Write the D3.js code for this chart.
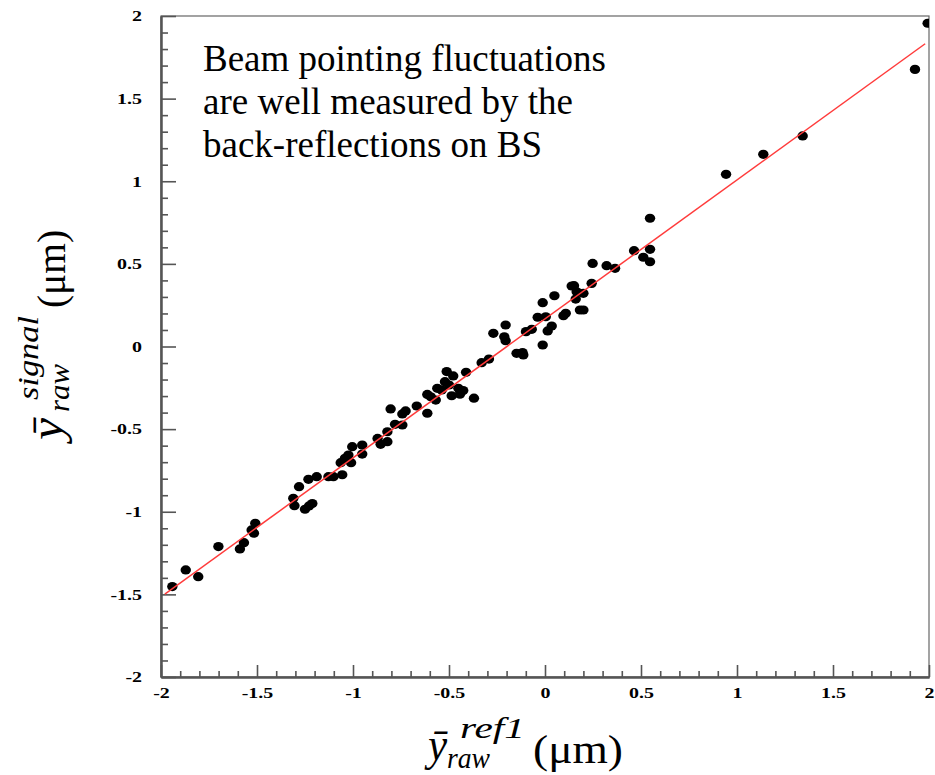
<!DOCTYPE html>
<html>
<head>
<meta charset="utf-8">
<script src="https://cdn.jsdelivr.net/npm/d3@7"></script>
<style>
  body { margin: 0; background: #fff; }
  svg { display: block; }
</style>
</head>
<body>
<div id="chart"></div>
<script>
// measured points: x = ref1 position, y = signal position (µm)
const xs = [-1.941, -1.871, -1.806, -1.701, -1.589, -1.568, -1.528, -1.516, -1.509,
  -1.311, -1.305, -1.281, -1.250, -1.229, -1.212, -1.232, -1.189, -1.128, -1.102,
  -1.056, -1.064, -1.042, -1.024, -1.010, -1.004, -0.952, -0.952, -0.872, -0.856,
  -0.821, -0.821, -0.804, -0.781, -0.743, -0.743, -0.726, -0.668, -0.613, -0.613,
  -0.595, -0.569, -0.561, -0.538, -0.521, -0.512, -0.478, -0.500, -0.486, -0.451,
  -0.443, -0.426, -0.411, -0.370, -0.330, -0.292, -0.269, -0.212, -0.205, -0.205,
  -0.148, -0.117, -0.113, -0.099, -0.069, -0.038, -0.012, -0.012, 0.004, 0.014,
  0.035, 0.049, 0.096, 0.108, 0.139, 0.151, 0.160, 0.165, 0.182, 0.200, 0.200,
  0.243, 0.248, 0.321, 0.365, 0.464, 0.512, 0.547, 0.547, 0.547, 0.943, 1.137,
  1.342, 1.927, 1.993];
const ys = [-1.453, -1.352, -1.393, -1.211, -1.225, -1.187, -1.110, -1.130, -1.070,
  -0.919, -0.963, -0.848, -0.985, -0.965, -0.950, -0.804, -0.788, -0.788, -0.788,
  -0.776, -0.703, -0.677, -0.657, -0.703, -0.606, -0.596, -0.651, -0.556, -0.592,
  -0.576, -0.516, -0.378, -0.471, -0.475, -0.408, -0.390, -0.360, -0.404, -0.290,
  -0.304, -0.324, -0.253, -0.263, -0.213, -0.152, -0.178, -0.233, -0.298, -0.253,
  -0.289, -0.267, -0.156, -0.313, -0.098, -0.076, 0.080, 0.059, 0.035, 0.130,
  -0.041, -0.037, -0.051, 0.090, 0.104, 0.177, 0.265, 0.009, 0.180, 0.094,
  0.124, 0.307, 0.186, 0.201, 0.366, 0.368, 0.287, 0.331, 0.221, 0.221, 0.322,
  0.382, 0.503, 0.489, 0.473, 0.580, 0.540, 0.588, 0.513, 0.776, 1.042, 1.163,
  1.274, 1.677, 1.956];

// fitted line end points
const fitX = [-1.98, 1.98];
const fitY = [-1.498, 1.832];

const xTickVals = [-2, -1.5, -1, -0.5, 0, 0.5, 1, 1.5, 2];
const xTickLabels = ['-2', '-1.5', '-1', '-0.5', '0', '0.5', '1', '1.5', '2'];
const yTickVals = [-2, -1.5, -1, -0.5, 0, 0.5, 1, 1.5, 2];
const yTickLabels = ['-2', '-1.5', '-1', '-0.5', '0', '0.5', '1', '1.5', '2'];

const noteLines = ['Beam pointing fluctuations', 'are well measured by the', 'back-reflections on BS'];

const width = 935, height = 775;
const margin = {top: 16, right: 6, bottom: 98, left: 161};
const serif = 'Liberation Serif, Times New Roman, serif';

const svg = d3.select('#chart').append('svg')
  .attr('width', width)
  .attr('height', height);

const x = d3.scaleLinear().domain([-2, 2]).range([margin.left, width - margin.right]);
const y = d3.scaleLinear().domain([-2, 2]).range([height - margin.bottom, margin.top]);

// minor ticks every 0.1
const minor = d3.range(-20, 21).map(d => d / 10).filter(d => Math.abs(d * 2 - Math.round(d * 2)) > 1e-6);

// frame
svg.append('rect')
  .attr('x', x(-2)).attr('y', y(2))
  .attr('width', x(2) - x(-2)).attr('height', y(-2) - y(2))
  .attr('fill', 'none')
  .attr('stroke', '#666')
  .attr('stroke-width', 1.2);

// clip for points
svg.append('defs').append('clipPath').attr('id', 'plot-clip')
  .append('rect')
  .attr('x', x(-2)).attr('y', y(2))
  .attr('width', x(2) - x(-2)).attr('height', y(-2) - y(2));

function styleAxis(g) {
  g.select('.domain').attr('stroke', '#555').attr('stroke-width', 2);
  g.selectAll('.tick line').attr('stroke', '#555').attr('stroke-width', 1.6);
}

// y axis (ticks point inward)
svg.append('g')
  .attr('transform', `translate(${x(-2)},0)`)
  .call(d3.axisLeft(y).tickValues(minor).tickSize(-7).tickSizeOuter(0).tickFormat(''))
  .call(styleAxis);

const yAxis = svg.append('g')
  .attr('transform', `translate(${x(-2)},0)`)
  .call(d3.axisLeft(y).tickValues(yTickVals).tickSize(-15).tickSizeOuter(0)
    .tickPadding(19).tickFormat((d, i) => yTickLabels[i]))
  .call(styleAxis);

yAxis.selectAll('.tick text')
  .attr('x', 0)
  .attr('transform', 'translate(-19,0) scale(1.33,1)')
  .attr('font-family', serif)
  .attr('font-weight', 'bold')
  .attr('font-size', 15)
  .attr('fill', '#000');

// x axis
svg.append('g')
  .attr('transform', `translate(0,${y(-2)})`)
  .call(d3.axisBottom(x).tickValues(minor).tickSize(-6).tickSizeOuter(0).tickFormat(''))
  .call(styleAxis);

const xAxis = svg.append('g')
  .attr('transform', `translate(0,${y(-2)})`)
  .call(d3.axisBottom(x).tickValues(xTickVals).tickSize(-12).tickSizeOuter(0)
    .tickPadding(10).tickFormat((d, i) => xTickLabels[i]))
  .call(styleAxis);

xAxis.selectAll('.tick text')
  .attr('transform', 'scale(1.33,1)')
  .attr('font-family', serif)
  .attr('font-weight', 'bold')
  .attr('font-size', 15)
  .attr('fill', '#000');

// data points
const pts = xs.map((d, i) => ({x: d, y: ys[i]}));
svg.append('g')
  .attr('clip-path', 'url(#plot-clip)')
  .selectAll('ellipse')
  .data(pts)
  .join('ellipse')
  .attr('cx', d => x(d.x))
  .attr('cy', d => y(d.y))
  .attr('rx', 5.2)
  .attr('ry', 4.6)
  .attr('fill', '#000');

// fit line
const line = d3.line().x(d => x(d[0])).y(d => y(d[1]));
svg.append('path')
  .datum(fitX.map((d, i) => [d, fitY[i]]))
  .attr('d', line)
  .attr('fill', 'none')
  .attr('stroke', '#ff3b3b')
  .attr('stroke-width', 1.5);

// annotation
noteLines.forEach((t, i) => {
  svg.append('text')
    .attr('x', 203)
    .attr('y', 71 + i * 43)
    .style('font-family', serif)
    .style('font-size', '37px')
    .attr('fill', '#000')
    .text(t);
});

// axis titles built from pieces (main symbol, subscript, superscript, unit)
function mathLabel(g, parts) {
  parts.forEach(p => {
    g.append('text')
      .attr('x', p.x)
      .attr('y', p.y)
      .style('font-family', serif)
      .style('font-style', p.italic ? 'italic' : 'normal')
      .style('font-size', p.size + 'px')
      .attr('textLength', p.len)
      .attr('lengthAdjust', 'spacingAndGlyphs')
      .attr('fill', '#000')
      .text(p.text);
  });
}

mathLabel(svg.append('g').attr('transform', 'translate(428,760)'), [
  {text: 'ȳ', x: 0, y: 0, size: 46, italic: true, len: 19},
  {text: 'raw', x: 19, y: 8, size: 30, italic: true, len: 43},
  {text: 'ref1', x: 32, y: -22, size: 30, italic: true, len: 65},
  {text: '(μm)', x: 105, y: 3, size: 40, italic: false, len: 90}
]);

mathLabel(svg.append('g').attr('transform', 'translate(62,440) rotate(-90)'), [
  {text: 'ȳ', x: 0, y: 0, size: 46, italic: true, len: 22},
  {text: 'raw', x: 28, y: 7, size: 30, italic: true, len: 48},
  {text: 'signal', x: 40, y: -24, size: 30, italic: true, len: 84},
  {text: '(μm)', x: 132, y: 3, size: 40, italic: false, len: 78}
]);
</script>
</body>
</html>
